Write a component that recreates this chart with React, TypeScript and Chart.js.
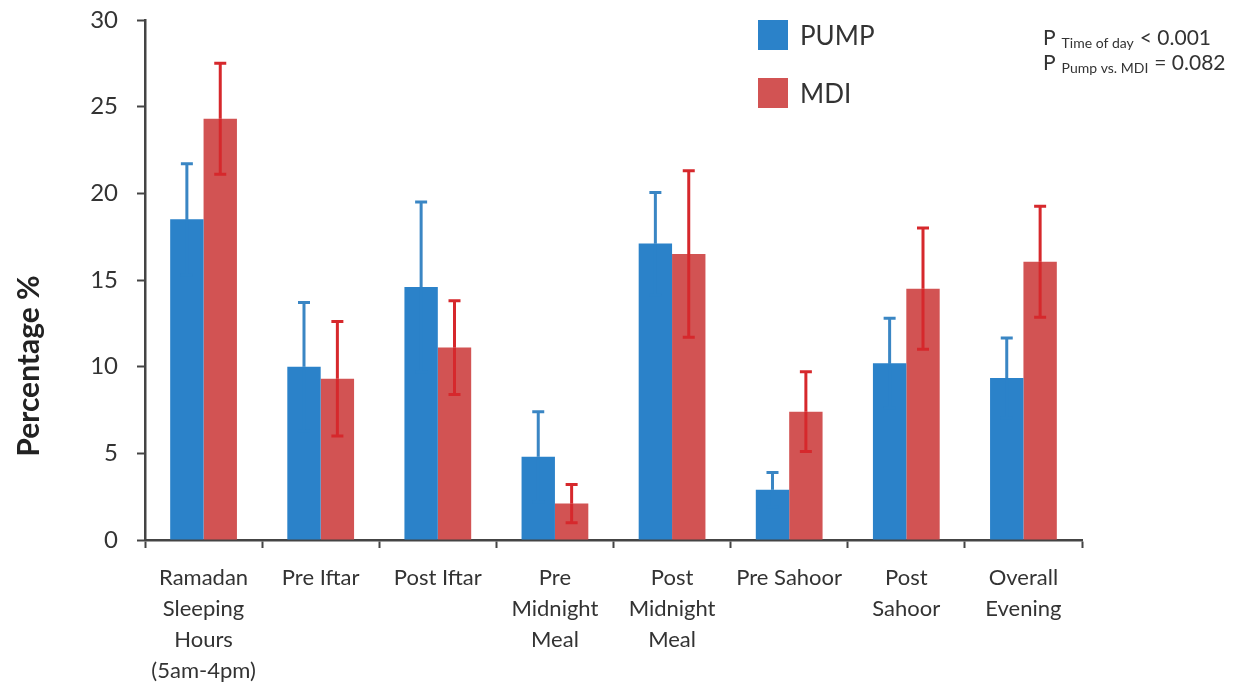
import React, { useEffect, useRef } from 'react';
import { Chart, registerables } from 'chart.js';
Chart.register(...registerables);

const categories: string[][] = [
  ['Ramadan', 'Sleeping', 'Hours', '(5am-4pm)'],
  ['Pre Iftar'],
  ['Post Iftar'],
  ['Pre', 'Midnight', 'Meal'],
  ['Post', 'Midnight', 'Meal'],
  ['Pre Sahoor'],
  ['Post', 'Sahoor'],
  ['Overall', 'Evening'],
];
const seriesNames = ['PUMP', 'MDI'];
const pumpValues = [18.5, 10.0, 14.6, 4.8, 17.1, 2.9, 10.2, 9.35];
const pumpErrors = [3.2, 3.7, 4.9, 2.6, 2.95, 1.0, 2.6, 2.3];
const mdiValues = [24.3, 9.3, 11.1, 2.1, 16.5, 7.4, 14.5, 16.05];
const mdiErrors = [3.2, 3.3, 2.7, 1.1, 4.8, 2.3, 3.5, 3.2];
const yTicks = [0, 5, 10, 15, 20, 25, 30];
const yTitle = 'Percentage %';
const pLines = [
  { sub: 'Time of day', rest: '< 0.001' },
  { sub: 'Pump vs. MDI', rest: '= 0.082' },
];

const FONT = 'Lato, "Open Sans", sans-serif';
const barColors = ['#2b82c9', '#d25353'];
const errColors = ['#3a86c4', '#d6282c'];
const errLowerColors = ['#2b82c9', '#d6282c'];

const errorBarPlugin = {
  id: 'errorBars',
  afterDatasetsDraw(chart: any) {
    const ctx = chart.ctx;
    const yScale = chart.scales.y;
    chart.data.datasets.forEach((ds: any, di: number) => {
      const meta = chart.getDatasetMeta(di);
      const errs: number[] = ds.errors;
      meta.data.forEach((bar: any, i: number) => {
        const v = ds.data[i];
        const e = errs[i];
        const x = bar.x;
        const yt = yScale.getPixelForValue(v + e);
        const ym = yScale.getPixelForValue(v);
        const yb = yScale.getPixelForValue(v - e);
        ctx.save();
        ctx.lineWidth = 3;
        ctx.strokeStyle = ds.errorLowerColor;
        ctx.beginPath();
        ctx.moveTo(x, ym);
        ctx.lineTo(x, yb);
        ctx.moveTo(x - 6, yb);
        ctx.lineTo(x + 6, yb);
        ctx.stroke();
        ctx.strokeStyle = ds.errorColor;
        ctx.beginPath();
        ctx.moveTo(x, yt);
        ctx.lineTo(x, ym);
        ctx.moveTo(x - 6, yt);
        ctx.lineTo(x + 6, yt);
        ctx.stroke();
        ctx.restore();
      });
    });
  },
};

const textPlugin = {
  id: 'texts',
  afterDraw(chart: any) {
    const ctx = chart.ctx;
    ctx.save();
    ctx.fillStyle = '#222';
    ctx.font = `bold 30px ${FONT}`;
    ctx.textAlign = 'center';
    ctx.textBaseline = 'middle';
    ctx.translate(29, 366);
    ctx.rotate(-Math.PI / 2);
    ctx.fillText(yTitle, 0, 0);
    ctx.restore();

    ctx.save();
    const lx = 758;
    const rows = [35, 93];
    chart.data.datasets.forEach((ds: any, i: number) => {
      const cy = rows[i];
      ctx.fillStyle = ds.backgroundColor;
      ctx.fillRect(lx, cy - 15, 30, 30);
      ctx.fillStyle = '#333';
      ctx.font = `26px ${FONT}`;
      ctx.textAlign = 'left';
      ctx.textBaseline = 'middle';
      ctx.fillText(ds.label, lx + 42, cy + 2);
    });
    ctx.restore();

    ctx.save();
    ctx.fillStyle = '#333';
    ctx.textAlign = 'left';
    ctx.textBaseline = 'alphabetic';
    const baselines = [45, 70];
    pLines.forEach((ln, i) => {
      let x = 1043;
      const by = baselines[i];
      ctx.font = `21px ${FONT}`;
      ctx.fillText('P', x, by);
      x += ctx.measureText('P').width + 6;
      ctx.font = `14px ${FONT}`;
      ctx.fillText(ln.sub, x, by + 3);
      x += ctx.measureText(ln.sub).width + 6;
      ctx.font = `21px ${FONT}`;
      ctx.fillText(ln.rest, x, by);
    });
    ctx.restore();
  },
};

export default function App() {
  const ref = useRef<HTMLCanvasElement | null>(null);
  useEffect(() => {
    if (!ref.current) return;
    const chart = new Chart(ref.current, {
      type: 'bar',
      data: {
        labels: categories,
        datasets: [
          {
            label: seriesNames[0],
            data: pumpValues,
            errors: pumpErrors,
            errorColor: errColors[0],
            errorLowerColor: errLowerColors[0],
            backgroundColor: barColors[0],
            borderWidth: 0,
          } as any,
          {
            label: seriesNames[1],
            data: mdiValues,
            errors: mdiErrors,
            errorColor: errColors[1],
            errorLowerColor: errLowerColors[1],
            backgroundColor: barColors[1],
            borderWidth: 0,
          } as any,
        ],
      },
      options: {
        animation: false,
        responsive: true,
        maintainAspectRatio: false,
        layout: { padding: { top: 20, right: 153, bottom: 0, left: 0 } },
        datasets: { bar: { categoryPercentage: 0.57, barPercentage: 1 } },
        plugins: {
          legend: { display: false },
          tooltip: { enabled: false },
        },
        scales: {
          x: {
            offset: true,
            grid: {
              offset: true,
              drawOnChartArea: false,
              drawTicks: true,
              tickLength: 8,
              tickColor: '#444',
              tickWidth: 2,
            },
            border: { color: '#444', width: 2.5 },
            ticks: {
              color: '#333',
              font: { family: FONT, size: 22, lineHeight: 1.41 },
              padding: 14,
              maxRotation: 0,
              autoSkip: false,
            },
            afterFit(scale: any) {
              scale.height = 144;
              scale.paddingLeft = 0;
              scale.paddingRight = 0;
            },
          },
          y: {
            min: 0,
            max: 30,
            afterBuildTicks(scale: any) {
              scale.ticks = yTicks.map((v) => ({ value: v }));
            },
            grid: {
              drawOnChartArea: false,
              drawTicks: true,
              tickLength: 8,
              tickColor: '#444',
              tickWidth: 2,
            },
            border: { color: '#444', width: 2.5 },
            ticks: {
              color: '#333',
              font: { family: FONT, size: 24 },
              padding: 19,
            },
            afterFit(scale: any) {
              scale.width = 145;
              scale.paddingTop = 0;
              scale.paddingBottom = 0;
            },
          },
        },
      },
      plugins: [errorBarPlugin, textPlugin],
    });
    return () => chart.destroy();
  }, []);
  return (
    <div style={{ position: 'fixed', left: 0, top: 0, width: 1235, height: 684, background: '#fff' }}>
      <canvas ref={ref} />
    </div>
  );
}
